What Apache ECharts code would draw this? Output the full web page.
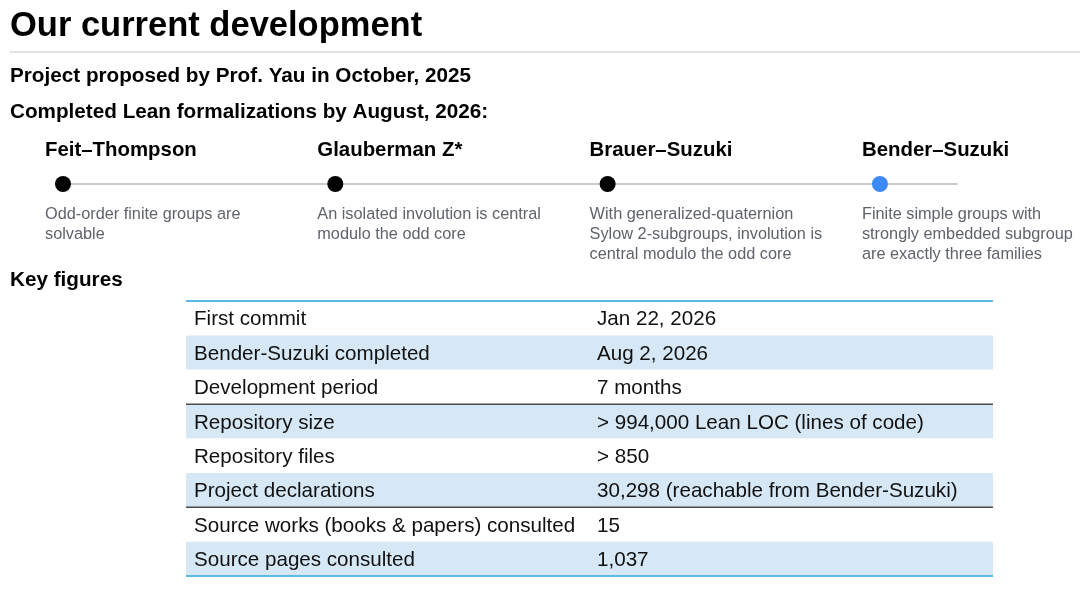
<!DOCTYPE html>
<html>
<head>
<meta charset="utf-8">
<script src="https://cdn.jsdelivr.net/npm/echarts@6/dist/echarts.min.js"></script>
<style>
  html, body { margin: 0; padding: 0; background: #fff; }
  #container { width: 1080px; height: 590px; }
</style>
</head>
<body>
<div id="container"></div>
<script>
var pageTitle = 'Our current development';
var subTitles = ['Project proposed by Prof. Yau in October, 2025', 'Completed Lean formalizations by August, 2026:'];
var tableTitle = 'Key figures';

// timeline
var milestoneNames = ['Feit\u2013Thompson', 'Glauberman Z*', 'Brauer\u2013Suzuki', 'Bender\u2013Suzuki'];
var milestoneNotes = [
  'Odd-order finite groups are\nsolvable',
  'An isolated involution is central\nmodulo the odd core',
  'With generalized-quaternion\nSylow 2-subgroups, involution is\ncentral modulo the odd core',
  'Finite simple groups with\nstrongly embedded subgroup\nare exactly three families'
];
var milestoneStep = [0, 1, 2, 3];
var milestoneLatest = [false, false, false, true];
var trackEnd = 3.283;

// key figures table
var tableKeys = ['First commit', 'Bender-Suzuki completed', 'Development period', 'Repository size',
  'Repository files', 'Project declarations', 'Source works (books & papers) consulted', 'Source pages consulted'];
var tableValues = ['Jan 22, 2026', 'Aug 2, 2026', '7 months', '> 994,000 Lean LOC (lines of code)',
  '> 850', '30,298 (reachable from Bender-Suzuki)', '15', '1,037'];
var groupStarts = [3, 6];

var font = '"Liberation Sans", Arial, Helvetica, sans-serif';
var dom = document.getElementById('container');
var myChart = echarts.init(dom);

function renderRow(params, api) {
  var i = api.value(1);
  var p0 = api.coord([0, i]);
  var p1 = api.coord([1, i + 1]);
  var midY = (p0[1] + p1[1]) / 2 + 1.5;
  var kids = [{
    type: 'rect',
    shape: { x: p0[0], y: p0[1], width: p1[0] - p0[0], height: p1[1] - p0[1] },
    style: { fill: i % 2 ? '#d6e8f6' : '#ffffff' }
  }, {
    type: 'text',
    style: { text: tableKeys[i], x: p0[0] + 8, y: midY, verticalAlign: 'middle',
      fontSize: 20.6, fontFamily: font, fill: '#111' }
  }, {
    type: 'text',
    style: { text: tableValues[i], x: p0[0] + 411, y: midY, verticalAlign: 'middle',
      fontSize: 20.6, fontFamily: font, fill: '#111' }
  }];
  if (groupStarts.indexOf(i) >= 0) {
    kids.push({ type: 'line', shape: { x1: p0[0], y1: p0[1], x2: p1[0], y2: p0[1] },
      style: { stroke: '#4a4a4a', lineWidth: 1.5 } });
  }
  if (i === 0) {
    kids.push({ type: 'line', shape: { x1: p0[0], y1: p0[1], x2: p1[0], y2: p0[1] },
      style: { stroke: '#5bbbe8', lineWidth: 2 } });
  }
  if (i === tableKeys.length - 1) {
    kids.push({ type: 'line', shape: { x1: p0[0], y1: p1[1], x2: p1[0], y2: p1[1] },
      style: { stroke: '#5bbbe8', lineWidth: 2 } });
  }
  return { type: 'group', children: kids };
}

var option = {
  animation: false,
  backgroundColor: '#fff',
  graphic: [
    { type: 'text', x: 10, y: 26, style: { text: pageTitle, fontSize: 34.5, fontWeight: 'bold', fontFamily: font, fill: '#000', verticalAlign: 'middle' } },
    { type: 'line', shape: { x1: 10, y1: 52, x2: 1080, y2: 52 }, style: { stroke: '#d6d8dd', lineWidth: 1.5 } },
    { type: 'text', x: 10, y: 76, style: { text: subTitles[0], fontSize: 20.7, fontWeight: 'bold', fontFamily: font, fill: '#000', verticalAlign: 'middle' } },
    { type: 'text', x: 10, y: 112, style: { text: subTitles[1], fontSize: 20.7, fontWeight: 'bold', fontFamily: font, fill: '#000', verticalAlign: 'middle' } },
    { type: 'text', x: 10, y: 280, style: { text: tableTitle, fontSize: 20.7, fontWeight: 'bold', fontFamily: font, fill: '#000', verticalAlign: 'middle' } }
  ],
  grid: [
    { left: 63, right: 123, top: 174, height: 20 },
    { left: 186, right: 87, top: 301, height: 275 }
  ],
  xAxis: [{
    gridIndex: 0, type: 'value', min: 0, max: trackEnd,
    axisLine: { show: true, onZero: true, lineStyle: { color: '#c9ccd2', width: 2 } },
    axisTick: { show: false }, axisLabel: { show: false }, splitLine: { show: false }
  }, {
    gridIndex: 1, type: 'value', min: 0, max: 1, show: false
  }],
  yAxis: [{
    gridIndex: 0, type: 'value', min: -1, max: 1, show: false
  }, {
    gridIndex: 1, type: 'value', min: 0, max: tableKeys.length, inverse: true, show: false
  }],
  series: [{
    type: 'scatter',
    name: 'milestones',
    xAxisIndex: 0, yAxisIndex: 0,
    symbolSize: 16,
    silent: true,
    data: milestoneStep.map(function (s, i) {
      return { value: [s, 0], itemStyle: { color: milestoneLatest[i] ? '#3d8af7' : '#000', opacity: 1 } };
    }),
    label: {
      show: true,
      position: [-10, -26],
      align: 'left',
      verticalAlign: 'middle',
      fontSize: 20.4,
      fontWeight: 'bold',
      fontFamily: font,
      color: '#000',
      formatter: function (p) { return milestoneNames[p.dataIndex]; }
    }
  }, {
    type: 'scatter',
    name: 'notes',
    xAxisIndex: 0, yAxisIndex: 0,
    symbolSize: 16,
    silent: true,
    itemStyle: { color: 'rgba(0,0,0,0)', opacity: 1 },
    data: milestoneStep.map(function (s) { return [s, 0]; }),
    label: {
      show: true,
      position: [-10, 29],
      align: 'left',
      verticalAlign: 'top',
      fontSize: 16.3,
      lineHeight: 20,
      fontFamily: font,
      color: '#5f636b',
      formatter: function (p) { return milestoneNotes[p.dataIndex]; }
    }
  }, {
    type: 'custom',
    name: 'key figures',
    xAxisIndex: 1, yAxisIndex: 1,
    silent: true,
    renderItem: renderRow,
    data: tableKeys.map(function (k, i) { return [0, i]; })
  }]
};

myChart.setOption(option);
</script>
</body>
</html>
